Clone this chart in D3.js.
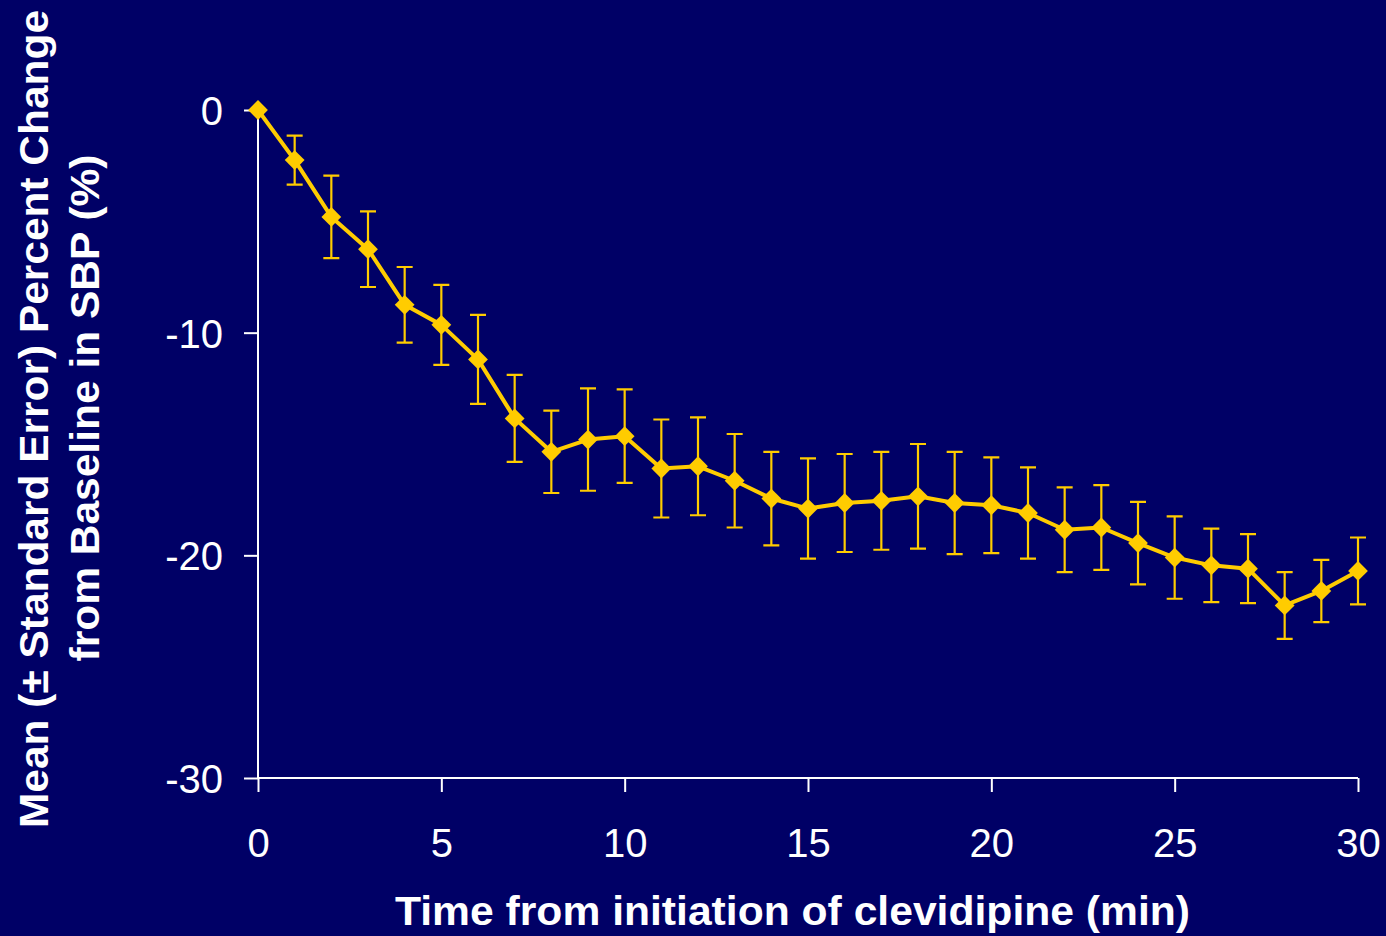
<!DOCTYPE html>
<html lang="en">
	<head>
		<meta charset="utf-8">
		<title>Percent change from baseline in SBP</title>
		<script src="https://d3js.org/d3.v7.min.js"></script>
		<style type="text/css">
			html, body { margin: 0; padding: 0; background: #000066; }
			svg { display: block; }
		</style>
	</head>
	<body>
		<script type="text/javascript">
			//Width and height
			var w = 1386;
			var h = 936;

			// minutes after start of infusion
			var minutes = [0, 1, 2, 3, 4, 5, 6, 7, 8, 9, 10, 11, 12, 13, 14, 15, 16, 17, 18, 19, 20, 21, 22, 23, 24, 25, 26, 27, 28, 29, 30];
			// mean percent change
			var meanChange = [0, -2.25, -4.8, -6.25, -8.75, -9.65, -11.2, -13.85, -15.35, -14.8, -14.65, -16.1, -16.0, -16.65, -17.45, -17.9, -17.65, -17.55, -17.35, -17.65, -17.75, -18.1, -18.85, -18.75, -19.45, -20.1, -20.45, -20.6, -22.25, -21.6, -20.7];
			// standard error
			var stdErr = [0, 1.1, 1.85, 1.7, 1.7, 1.8, 2.0, 1.95, 1.85, 2.3, 2.1, 2.2, 2.2, 2.1, 2.1, 2.25, 2.2, 2.2, 2.35, 2.3, 2.15, 2.05, 1.9, 1.9, 1.85, 1.85, 1.65, 1.55, 1.5, 1.4, 1.5];

			var xTicks = [0, 5, 10, 15, 20, 25, 30];
			var yTicks = [0, -10, -20, -30];

			var dataset = minutes.map(function(m, i) {
				return { t: m, v: meanChange[i], se: stdErr[i] };
			});

			var yellow = "#ffcc00";

			var svg = d3.select("body")
						.append("svg")
						.attr("width", w)
						.attr("height", h);

			svg.append("rect")
				.attr("width", w)
				.attr("height", h)
				.attr("fill", "#000066");

			var xscale = d3.scaleLinear()
						.domain([0, 30])
						.range([258, 1358]);

			var yscale = d3.scaleLinear()
						.domain([-30, 0])
						.range([778, 110]);

			// axes
			var xAxis = svg.append("g")
				.attr("transform", "translate(0," + yscale(-30) + ")")
				.call(d3.axisBottom(xscale).tickValues(xTicks).tickSize(14).tickPadding(37));

			var yAxis = svg.append("g")
				.attr("transform", "translate(" + xscale(0) + ",0)")
				.call(d3.axisLeft(yscale).tickValues(yTicks).tickSize(14).tickPadding(21)
					.tickFormat(function(d) { return String(d); }));

			[xAxis, yAxis].forEach(function(ax) {
				ax.select(".domain").attr("stroke", "#ffffff").attr("stroke-width", 2);
				ax.selectAll(".tick line").attr("stroke", "#ffffff").attr("stroke-width", 2);
				ax.selectAll(".tick text")
					.attr("fill", "#ffffff")
					.attr("font-family", "'Liberation Sans', Arial, sans-serif")
					.attr("font-size", "40px");
			});
			// the x axis domain has no outer ticks
			xAxis.select(".domain").attr("d", "M" + xscale(0) + ",0H" + xscale(30));
			yAxis.select(".domain").attr("d", "M0," + yscale(-30) + "V" + yscale(0));
			yAxis.selectAll(".tick text").attr("dy", "0.36em");

			// error bars
			var bars = svg.append("g")
				.attr("stroke", yellow)
				.attr("stroke-width", 2.2)
				.attr("fill", "none");

			bars.selectAll("path")
				.data(dataset.filter(function(d) { return d.se > 0; }))
				.enter()
				.append("path")
				.attr("d", function(d) {
					var x = xscale(d.t);
					var y1 = yscale(d.v + d.se);
					var y2 = yscale(d.v - d.se);
					return "M" + x + "," + y1 + "V" + y2 +
						"M" + (x - 8) + "," + y1 + "H" + (x + 8) +
						"M" + (x - 8) + "," + y2 + "H" + (x + 8);
				});

			// the line
			var line = d3.line()
				.x(function(d) { return xscale(d.t); })
				.y(function(d) { return yscale(d.v); });

			svg.append("path")
				.datum(dataset)
				.attr("d", line)
				.attr("fill", "none")
				.attr("stroke", yellow)
				.attr("stroke-width", 4)
				.attr("stroke-linejoin", "round");

			// diamond markers
			svg.selectAll("path.marker")
				.data(dataset)
				.enter()
				.append("path")
				.attr("class", "marker")
				.attr("d", d3.symbol().type(d3.symbolDiamond2).size(250))
				.attr("transform", function(d) {
					return "translate(" + xscale(d.t) + "," + yscale(d.v) + ")";
				})
				.attr("fill", yellow);

			// axis titles
			svg.append("text")
				.text("Time from initiation of clevidipine (min)")
				.attr("x", 395)
				.attr("y", 925)
				.attr("textLength", 795)
				.attr("lengthAdjust", "spacingAndGlyphs")
				.attr("font-family", "'Liberation Sans', Arial, sans-serif")
				.attr("font-weight", "bold")
				.attr("font-size", "41px")
				.attr("fill", "#ffffff");

			var yTitle = [
				{ text: "Mean (\u00b1 Standard Error) Percent Change", x: 48, cy: 419, len: 818 },
				{ text: "from Baseline in SBP (%)", x: 99, cy: 408, len: 507 }
			];

			svg.selectAll("text.ytitle")
				.data(yTitle)
				.enter()
				.append("text")
				.attr("class", "ytitle")
				.text(function(d) { return d.text; })
				.attr("text-anchor", "middle")
				.attr("transform", function(d) {
					return "translate(" + d.x + "," + d.cy + ") rotate(-90)";
				})
				.attr("textLength", function(d) { return d.len; })
				.attr("lengthAdjust", "spacingAndGlyphs")
				.attr("font-family", "'Liberation Sans', Arial, sans-serif")
				.attr("font-weight", "bold")
				.attr("font-size", "41px")
				.attr("fill", "#ffffff");
		</script>
	</body>
</html>
